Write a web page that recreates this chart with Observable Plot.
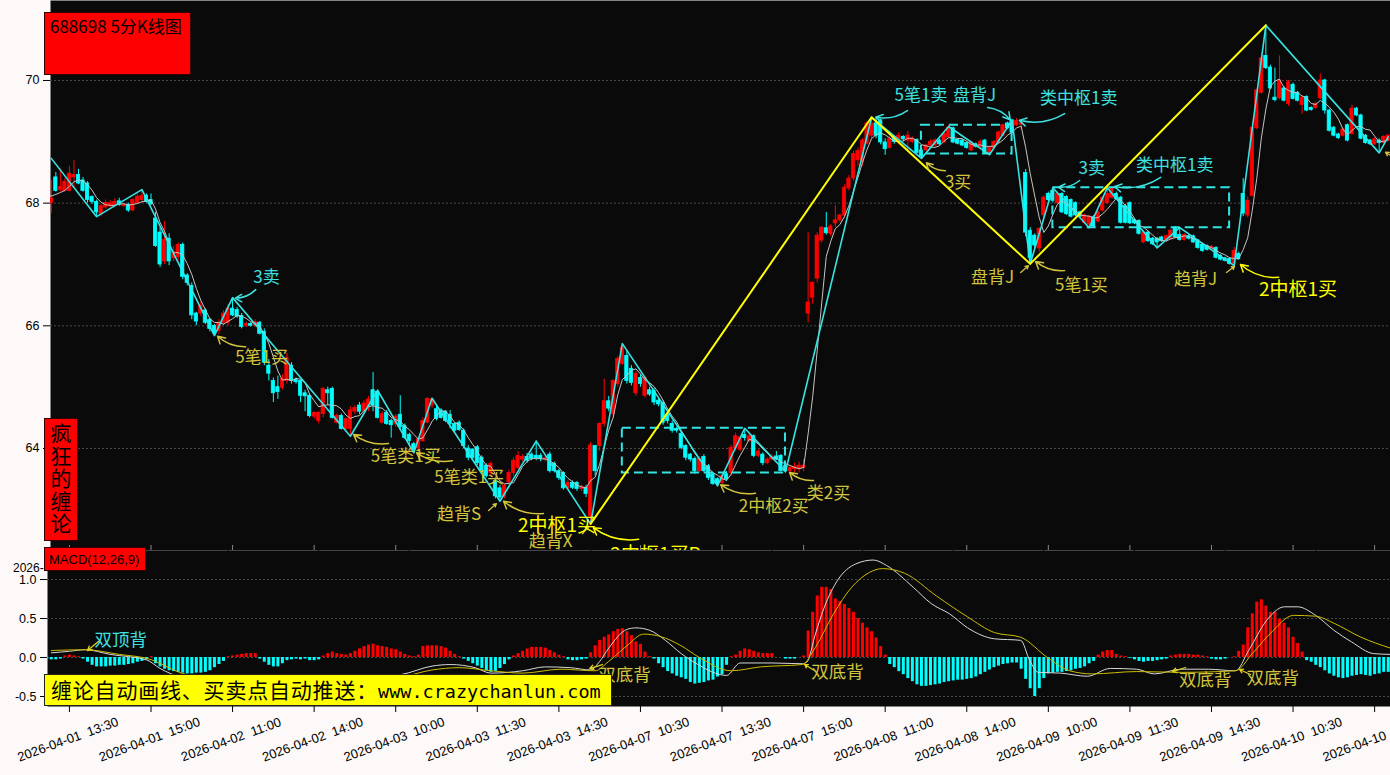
<!DOCTYPE html>
<html>
<head>
<meta charset="utf-8">
<script src="https://cdn.jsdelivr.net/npm/d3@7"></script>
<script src="https://cdn.jsdelivr.net/npm/@observablehq/plot@0.6"></script>
<style>
  html,body{margin:0;padding:0;}
  body{width:1390px;height:775px;background:#fcf9f8;position:relative;overflow:hidden;}
  #kline,#macd{position:absolute;left:0;}
  #kline{top:0;} #macd{top:550px;}
  .tag{position:absolute;z-index:5;box-sizing:border-box;color:#000;}
  #title{left:44px;top:12px;width:147px;height:63px;background:#ff0000;border:1px solid #3a0000;font:17px "Noto Sans CJK SC",sans-serif;padding:3px 0 0 5px;line-height:20px;white-space:nowrap;}
  #vtag{left:44px;top:418px;width:34px;height:123px;background:#ff0000;border:1px solid #3a0000;font:21px "Noto Sans CJK SC",sans-serif;line-height:22.6px;text-align:center;padding-top:2px;}
  #mtag{left:44px;top:547px;width:102px;height:24px;background:#ff0000;border:1px solid #3a0000;font:13px "Liberation Sans",sans-serif;padding:4px 0 0 4px;white-space:nowrap;}
  #banner{left:44px;top:674px;width:568px;height:32px;background:#ffff00;border:1px solid #222;font:21px "Noto Sans CJK SC",sans-serif;letter-spacing:0.8px;line-height:29px;padding-left:6px;white-space:nowrap;}
  #banner span{font:18.5px "DejaVu Sans Mono",monospace;letter-spacing:0;}
  #frag{left:13px;top:561px;font:12px "Liberation Sans",sans-serif;}
</style>
</head>
<body>
<div id="kline"></div>
<div id="macd"></div>
<div class="tag" id="title">688698 5分K线图</div>
<div class="tag" id="vtag">疯<br>狂<br>的<br>缠<br>论</div>
<div class="tag" id="frag">2026-</div>
<div class="tag" id="mtag">MACD(12,26,9)</div>
<div class="tag" id="banner">缠论自动画线、买卖点自动推送：<span>www.crazychanlun.com</span></div>
<script>
// ---------- 5-minute candles (bar index 0 = 2026-04-01 13:05) ----------
const open = [
68.30,68.00,68.42,68.22,68.20,68.20,68.42,68.46,68.37,68.32,
68.10,68.02,67.82,67.93,67.95,67.95,68.03,67.95,67.97,67.88,
68.00,68.05,68.12,68.05,67.75,67.52,67.05,67.42,67.10,67.12,
67.32,66.82,66.65,66.20,66.20,66.25,66.10,66.00,65.92,66.05,
66.05,66.28,66.26,66.16,66.00,66.03,66.00,66.05,65.90,65.35,
65.10,65.00,64.99,65.10,65.35,65.12,65.10,64.90,64.86,64.52,
64.45,64.56,64.95,64.97,64.42,64.53,64.32,64.32,64.60,64.70,
64.61,64.65,64.95,64.92,64.42,64.58,64.45,64.40,64.55,64.37,
64.22,64.07,64.00,64.12,64.42,64.70,64.64,64.62,64.60,64.55,
64.40,64.42,64.29,64.00,63.98,64.02,63.85,63.72,63.60,63.47,
63.35,63.22,63.45,63.60,63.68,63.82,63.86,63.90,63.88,63.88,
63.82,63.90,63.75,63.63,63.60,63.35,63.44,63.44,63.34,63.36,
62.90,64.04,64.04,64.40,64.77,64.56,65.05,65.38,65.51,65.30,
64.90,65.15,64.86,64.95,64.94,64.78,64.74,64.55,64.40,64.32,
64.24,64.04,63.90,63.83,63.63,63.86,63.71,63.58,63.50,63.44,
63.58,63.60,64.00,63.98,64.22,64.12,64.20,63.88,63.90,63.76,
63.82,63.87,63.88,63.71,63.63,63.66,63.66,63.68,66.20,66.46,
66.77,67.39,67.59,67.50,67.67,67.72,67.80,68.24,68.40,68.70,
68.66,68.97,69.10,69.30,69.35,68.99,68.90,69.08,69.00,69.08,
69.02,69.00,69.03,68.86,68.86,68.94,68.94,69.02,68.99,69.07,
69.22,69.03,69.02,68.98,68.86,68.96,68.90,69.02,68.80,68.90,
68.99,69.10,69.30,69.35,69.27,69.28,68.49,67.55,67.47,67.26,
67.80,68.15,68.20,68.00,68.15,68.10,68.05,68.00,67.85,67.68,
67.65,67.77,67.70,67.88,68.00,68.09,68.15,68.09,67.95,68.00,
67.72,67.71,67.36,67.52,67.42,67.42,67.44,67.38,67.42,67.60,
67.48,67.40,67.46,67.46,67.39,67.32,67.30,67.25,67.27,67.14,
67.10,67.09,67.01,67.17,68.15,67.80,68.12,69.22,69.80,70.40,
70.21,69.72,69.71,69.87,69.62,69.93,69.80,69.60,69.73,69.55,
69.55,69.71,70.00,69.51,69.23,69.12,69.10,69.27,69.13,69.54,
69.43,69.10,69.02,68.96,69.02,68.98,69.02];
const high = [
68.40,68.38,68.50,68.56,68.40,68.60,68.70,68.55,68.42,68.35,
68.12,68.05,67.98,68.05,68.04,68.07,68.08,67.99,68.00,68.07,
68.15,68.22,68.15,68.15,67.85,67.60,67.70,67.50,67.30,67.35,
67.35,66.85,66.70,66.22,66.40,66.28,66.12,66.02,66.10,66.25,
66.35,66.46,66.30,66.20,66.06,66.05,66.10,66.07,65.95,65.45,
65.15,65.18,65.20,65.55,65.40,65.15,65.12,64.95,64.88,64.60,
64.60,65.00,65.00,65.00,64.56,64.56,64.50,64.68,64.70,64.75,
64.78,64.85,65.24,64.95,64.60,64.62,64.48,64.55,64.86,64.40,
64.25,64.10,64.18,64.50,64.83,64.82,64.70,64.65,64.62,64.62,
64.42,64.45,64.32,64.05,64.00,64.05,63.88,63.75,63.78,63.50,
63.40,63.42,63.65,63.85,63.95,63.90,63.92,63.93,64.12,63.92,
63.88,63.94,63.78,63.66,63.62,63.48,63.47,63.46,63.40,63.40,
64.10,64.05,64.42,65.13,64.85,65.12,65.50,65.71,65.60,65.35,
65.25,65.20,65.18,65.00,64.98,64.82,64.78,64.58,64.45,64.35,
64.27,64.06,63.92,63.86,63.86,63.90,63.74,63.60,63.52,63.58,
63.62,64.05,64.25,64.20,64.32,64.24,64.22,63.98,63.93,63.85,
63.90,63.95,63.90,63.74,63.72,63.76,63.78,63.82,67.52,66.72,
67.52,67.62,67.85,67.65,67.96,67.82,68.30,68.45,68.85,68.90,
69.05,69.33,69.40,69.38,69.37,69.05,69.08,69.10,69.15,69.10,
69.17,69.08,69.05,68.88,68.96,69.03,69.05,69.04,69.15,69.27,
69.24,69.05,69.04,69.00,69.01,68.98,69.03,69.04,68.92,69.02,
69.17,69.29,69.32,69.36,69.38,69.32,68.55,67.60,67.50,67.60,
68.12,68.18,68.25,68.18,68.17,68.12,68.07,68.02,67.87,67.82,
67.80,67.80,67.87,68.10,68.25,68.25,68.18,68.11,67.98,68.02,
67.74,67.73,67.54,67.54,67.44,67.44,67.46,67.48,67.57,67.62,
67.60,67.50,67.48,67.48,67.41,67.34,67.32,67.31,67.29,67.16,
67.12,67.11,67.28,67.20,68.40,68.10,69.25,69.86,70.40,70.90,
70.25,70.20,70.40,69.90,70.00,69.96,69.82,69.75,69.75,69.57,
69.64,70.11,70.02,69.53,69.25,69.14,69.22,69.29,69.60,69.56,
69.45,69.12,69.04,69.06,69.05,69.10,69.12];
const low = [
68.10,67.83,68.18,68.18,68.18,68.18,68.25,68.30,68.18,68.00,
67.98,67.77,67.78,67.90,67.92,67.93,67.95,67.93,67.85,67.86,
67.98,68.00,68.00,67.96,67.28,66.95,67.00,66.98,67.05,67.05,
66.75,66.65,66.10,66.00,66.15,66.02,65.90,65.84,65.86,66.00,
66.00,66.15,66.12,65.95,65.97,65.98,65.97,65.85,65.35,65.10,
64.75,64.80,64.95,65.05,65.05,65.05,64.75,64.60,64.50,64.48,
64.40,64.50,64.70,64.48,64.40,64.30,64.28,64.20,64.55,64.55,
64.58,64.60,64.60,64.48,64.40,64.38,64.17,64.35,64.30,64.15,
64.05,63.93,63.98,64.10,64.40,64.65,64.45,64.48,64.42,64.32,
64.27,64.28,64.00,63.80,63.82,63.72,63.60,63.52,63.55,63.18,
63.14,63.18,63.40,63.55,63.65,63.78,63.76,63.80,63.80,63.78,
63.78,63.60,63.60,63.48,63.32,63.32,63.33,63.30,63.30,63.20,
62.77,63.55,63.95,64.35,64.60,64.50,65.00,65.35,65.05,65.02,
64.85,65.00,64.82,64.85,64.70,64.68,64.38,64.40,64.25,64.25,
63.98,63.80,63.78,63.58,63.60,63.60,63.48,63.40,63.39,63.40,
63.46,63.55,63.96,63.95,64.12,64.10,63.85,63.85,63.72,63.74,
63.80,63.80,63.62,63.62,63.60,63.60,63.60,63.62,66.05,66.35,
66.70,67.35,67.48,67.45,67.60,67.68,67.75,68.20,68.35,68.60,
68.60,68.95,69.05,69.05,68.95,68.78,68.88,68.96,68.95,69.00,
68.85,68.97,68.80,68.73,68.84,68.90,68.92,68.94,68.97,69.05,
68.97,68.95,68.92,68.88,68.84,68.90,68.88,68.80,68.79,68.88,
68.97,69.08,69.20,69.13,69.25,69.20,67.45,67.01,67.25,67.20,
67.75,68.00,68.00,67.98,67.83,67.80,67.76,67.78,67.76,67.66,
67.60,67.60,67.68,67.86,67.98,68.07,68.05,67.66,67.66,67.65,
67.65,67.48,67.34,67.36,67.31,67.27,67.36,67.36,67.40,67.42,
67.38,67.38,67.40,67.34,67.25,67.20,67.22,67.23,67.09,67.06,
67.04,66.99,66.98,67.07,67.78,67.76,68.10,69.20,69.78,70.18,
69.85,69.65,69.68,69.65,69.58,69.68,69.65,69.45,69.49,69.50,
69.53,69.69,69.45,69.16,69.08,69.04,69.08,69.00,69.11,69.41,
69.03,68.96,68.94,68.94,68.83,68.96,69.00];
const close = [
68.15,68.08,68.20,68.26,68.35,68.48,68.46,68.32,68.20,68.05,
68.02,67.85,67.95,68.00,68.00,68.02,67.97,67.97,67.88,68.05,
68.10,68.12,68.02,67.98,67.30,67.00,67.40,67.05,67.20,67.32,
66.80,66.70,66.17,66.07,66.33,66.05,65.95,65.88,66.05,66.20,
66.28,66.17,66.15,65.98,66.03,66.00,66.06,65.87,65.40,65.22,
64.90,64.92,65.13,65.48,65.10,65.08,64.86,64.85,64.53,64.58,
64.58,64.97,64.90,64.50,64.53,64.32,64.48,64.62,64.66,64.60,
64.73,64.80,64.70,64.50,64.56,64.40,64.38,64.52,64.35,64.17,
64.12,63.98,64.15,64.45,64.81,64.80,64.48,64.50,64.45,64.40,
64.29,64.30,64.04,63.85,63.85,63.76,63.63,63.55,63.75,63.22,
63.20,63.39,63.60,63.80,63.88,63.86,63.80,63.83,63.84,63.83,
63.84,63.63,63.63,63.52,63.35,63.44,63.36,63.34,63.38,63.26,
64.05,63.63,64.40,64.77,64.65,65.10,65.46,65.64,65.10,65.07,
65.22,65.05,65.15,64.88,64.75,64.72,64.42,64.45,64.29,64.29,
64.01,63.85,63.82,63.63,63.83,63.63,63.52,63.42,63.42,63.55,
63.50,64.01,64.20,64.18,64.17,64.20,63.88,63.95,63.76,63.82,
63.86,63.82,63.63,63.63,63.68,63.70,63.72,63.72,66.38,66.70,
67.47,67.60,67.51,67.62,67.72,67.80,68.25,68.40,68.80,68.85,
69.02,69.30,69.30,69.10,68.99,68.88,69.05,69.00,69.10,69.04,
69.10,69.05,68.82,68.76,68.94,69.00,69.02,68.96,69.13,69.23,
68.99,68.97,68.94,68.90,68.99,68.92,69.00,68.82,68.90,69.00,
69.15,69.27,69.22,69.15,69.34,69.30,67.52,67.11,67.31,67.58,
68.09,68.05,68.04,68.15,67.85,67.82,67.78,67.80,67.78,67.80,
67.78,67.62,67.85,68.09,68.15,68.24,68.07,67.68,67.68,67.67,
67.67,67.50,67.52,67.38,67.33,67.36,67.38,67.46,67.55,67.44,
67.40,67.48,67.42,67.36,67.27,67.22,67.24,67.29,67.11,67.08,
67.06,67.01,67.22,67.09,67.83,68.04,69.23,69.84,70.36,70.20,
69.87,69.68,70.00,69.67,69.97,69.70,69.67,69.72,69.51,69.52,
69.62,70.00,69.51,69.18,69.10,69.06,69.20,69.02,69.54,69.43,
69.05,68.98,68.96,69.04,68.98,69.08,69.10];

// ---------- MACD histogram, one value per bar ----------
const macdHist = [
-0.02,-0.03,-0.03,-0.02,0.02,0.03,0.02,0.01,-0.02,-0.06,
-0.10,-0.12,-0.12,-0.12,-0.11,-0.11,-0.10,-0.10,-0.09,-0.08,
-0.06,-0.05,-0.03,0.01,-0.08,-0.12,-0.15,-0.17,-0.18,-0.19,
-0.20,-0.21,-0.21,-0.20,-0.20,-0.19,-0.17,-0.13,-0.09,-0.05,
0.01,0.02,0.03,0.04,0.05,0.05,0.05,-0.02,-0.06,-0.10,
-0.12,-0.12,-0.08,-0.04,-0.03,-0.02,-0.03,-0.02,-0.04,-0.04,
-0.03,0.02,0.05,0.07,0.05,0.04,0.03,0.05,0.08,0.11,
0.14,0.16,0.17,0.15,0.14,0.13,0.11,0.10,0.07,0.04,
0.02,0.01,0.03,0.14,0.15,0.15,0.15,0.14,0.12,0.08,
0.04,0.01,-0.02,-0.05,-0.08,-0.11,-0.14,-0.17,-0.19,-0.18,
-0.14,-0.09,-0.03,0.02,0.05,0.08,0.11,0.13,0.13,0.13,
0.12,0.09,0.06,0.03,0.01,-0.03,-0.04,-0.04,-0.03,-0.02,
0.06,0.15,0.22,0.26,0.29,0.33,0.36,0.37,0.33,0.28,
0.20,0.17,0.07,0.01,-0.02,-0.08,-0.13,-0.18,-0.21,-0.24,
-0.26,-0.28,-0.32,-0.34,-0.33,-0.32,-0.30,-0.29,-0.25,-0.22,
-0.10,0.01,0.03,0.08,0.11,0.10,0.08,0.06,0.05,0.05,
0.05,0.00,0.00,-0.02,-0.02,-0.02,0.00,0.02,0.34,0.58,
0.79,0.90,0.90,0.87,0.75,0.72,0.68,0.63,0.58,0.50,
0.44,0.38,0.33,0.25,0.14,0.03,-0.09,-0.13,-0.18,-0.22,
-0.27,-0.31,-0.35,-0.37,-0.37,-0.36,-0.35,-0.34,-0.32,-0.31,
-0.30,-0.29,-0.29,-0.28,-0.27,-0.25,-0.22,-0.19,-0.16,-0.13,
-0.11,-0.09,-0.08,-0.07,-0.07,-0.15,-0.28,-0.40,-0.50,-0.40,
-0.27,-0.21,-0.20,-0.19,-0.19,-0.18,-0.17,-0.15,-0.14,-0.12,
-0.08,-0.05,0.03,0.07,0.09,0.09,0.04,0.02,0.01,-0.01,
-0.03,-0.05,-0.06,-0.05,-0.05,-0.04,-0.03,-0.02,0.02,0.03,
0.04,0.04,0.04,0.03,0.03,0.02,0.01,-0.02,-0.03,-0.03,
-0.02,0.00,0.01,0.08,0.16,0.38,0.56,0.71,0.74,0.66,
0.58,0.58,0.49,0.44,0.38,0.26,0.18,0.07,-0.04,-0.06,
-0.10,-0.13,-0.17,-0.21,-0.24,-0.26,-0.27,-0.26,-0.24,-0.23,
-0.22,-0.23,-0.24,-0.22,-0.21,-0.19,-0.19];

// DIF / DEA lines read at sample bars
const difIdx = [1,5,8.5,14,22,25,34,47,63,78,85,89,94.5,98,105,110,115.5,120,122,124,128,130,133,136.5,140,144,147.5,150,153,160,166.7,167.7,169.6,171.6,174.5,178.5,182.4,185.3,191.2,195.2,199.2,203.2,209.1,214.9,216.9,218.8,223.7,229.6,234.7,240.5,244.4,250.4,256.3,262.3,265.2,269.1,273.1,276,280,284,287.9,292.8,296.5];
const difVal = [0.06,0.08,0.10,0.04,-0.03,-0.14,-0.30,-0.32,-0.28,-0.22,-0.11,-0.09,-0.13,-0.20,-0.17,-0.12,-0.13,-0.16,-0.05,0.12,0.36,0.38,0.35,0.22,0.05,-0.10,-0.20,-0.23,-0.07,-0.07,-0.08,-0.06,0.30,0.65,0.99,1.20,1.25,1.18,0.90,0.69,0.56,0.38,0.24,0.22,-0.04,-0.19,-0.20,-0.24,-0.14,-0.15,-0.21,-0.15,-0.15,-0.17,0.09,0.47,0.65,0.65,0.54,0.35,0.20,0.05,0.04];
const deaIdx = [1,8.5,16,22,31,45,63,78,85,91,98,105,113.5,121,124,128,131.7,135.4,140,144,151,157.5,166.7,169.6,173.6,177.6,181.5,184.4,189.3,196.3,203.2,209.1,214.9,220.8,225.7,230.7,240.5,250.4,262.3,266,270,275.1,280,284,290,296.5];
const deaVal = [0.09,0.10,0.04,-0.01,-0.22,-0.30,-0.30,-0.25,-0.16,-0.13,-0.17,-0.20,-0.15,-0.17,-0.05,0.15,0.30,0.27,0.15,0.00,-0.17,-0.12,-0.09,0.13,0.56,0.90,1.09,1.14,1.08,0.79,0.52,0.32,0.26,0.00,-0.17,-0.21,-0.18,-0.19,-0.17,0.05,0.31,0.54,0.53,0.44,0.26,0.12];

// ---------- Chan-theory structure ----------
const biIdx = [1,11,21,37,41,67,73,81,85,100,108,120,127,148,154,163,182,193,199,208,213,217,222,230,234,245,250,262,269,294,296];
const biVal = [68.73,67.78,68.22,65.84,66.46,64.20,64.95,63.93,64.82,63.14,64.12,62.77,65.71,63.39,64.33,63.62,69.40,68.73,69.25,68.79,69.35,67.01,68.25,67.60,68.25,67.27,67.60,66.98,70.90,68.82,69.08];
const duanIdx = [120,182,217,269];
const duanVal = [62.77,69.40,67.01,70.90];
const zsFrom = [127,193,222];
const zsTo = [163,213,261];
const zsLow = [63.60,68.80,67.60];
const zsHigh = [64.33,69.27,68.25];

// ---------- annotations (c = cyan, y = yellow, b = bright yellow) ----------
const labelText  = ["3卖","5笔1卖","盘背J","类中枢1卖","3卖","类中枢1卖","5笔1买","5笔类1买","5笔类1买","趋背S","趋背X","2中枢2买","类2买","3买","盘背J","5笔1买","趋背J","2中枢1买","2中枢1买P","2中枢1买"];
const labelIdx   = [48.5,192.9,204.7,227.7,230.6,248.9,47.4,79.2,93.2,91.0,111.2,160.4,172.5,201.1,208.7,228.3,253.5,112.6,134.3,276.1];
const labelPrice = [66.79,69.75,69.76,69.71,68.57,68.61,65.48,63.87,63.53,62.92,62.48,63.05,63.27,68.33,66.78,66.66,66.76,62.73,62.27,66.58];
const labelKind  = ["c","c","c","c","c","c","y","y","y","y","y","y","y","y","y","y","y","b","b","b"];

const arrowFromIdx = [46.1,189.9,207.6,224.6,227.9,245.8,43.9,75.4,89.5,97.5,109.6,118.2,156.4,169.2,198.3,214.9,224.6,260.3,297.6,130.6,271.8];
const arrowFromVal = [66.59,69.51,69.56,69.46,68.37,68.42,65.66,64.08,63.80,62.99,62.94,62.61,63.27,63.48,68.53,66.87,66.90,66.87,68.73,62.52,66.79];
const arrowToIdx   = [41.6,182.9,212.6,214.6,223.2,235.6,37.7,67.7,81.6,99.2,100.8,119.5,148.7,163.9,194.1,216.6,218.2,262.1,295.4,120.6,263.4];
const arrowToVal   = [66.45,69.40,69.36,69.35,68.26,68.27,65.83,64.23,63.93,63.10,63.14,62.73,63.41,63.61,68.66,66.98,67.05,66.97,68.83,62.71,67.00];
const arrowKind    = ["c","c","c","c","c","c","y","y","y","y","y","y","y","y","y","y","y","y","y","b","b"];
const arrowCurved  = [1,1,1,1,1,1,1,1,1,0,1,0,1,1,1,0,1,0,0,1,1];

const macdLabelText = ["双顶背","双底背","双底背","双底背","双底背"];
const macdLabelIdx  = [16.3,127.5,174.5,255.6,270.5];
const macdLabelVal  = [0.224,-0.224,-0.186,-0.288,-0.263];
const macdLabelKind = ["c","y","y","y","y"];
const macdArrowFromIdx = [11.4,122.6,169.4,251.3,265.6];
const macdArrowFromVal = [0.205,-0.09,-0.167,-0.128,-0.218];
const macdArrowToIdx   = [9.0,119.8,167.2,248.4,263.2];
const macdArrowToVal   = [0.09,-0.141,-0.09,-0.18,-0.154];

// ---------- axes ----------
const priceTicks = [64,66,68,70];
const macdTicks = [-0.5,0,0.5,1];
const tickBars = [5,23,41,59,77,95,113,131,149,167,185,203,221,239,257,275,293];
const tickLabels = ["2026-04-01  13:30","2026-04-01  15:00","2026-04-02  11:00","2026-04-02  14:00","2026-04-03  10:00","2026-04-03  11:30","2026-04-03  14:30","2026-04-07  10:30","2026-04-07  13:30","2026-04-07  15:00","2026-04-08  11:00","2026-04-08  14:00","2026-04-09  10:00","2026-04-09  11:30","2026-04-09  14:30","2026-04-10  10:30","2026-04-10  13:30"];

// ---------- build ----------
const RED = "#ff0000", CYAN = "#00ffff";
const TXT = {c: "#3ee0e0", y: "#d2c43c", b: "#ffff00"};
const N = close.length;
const bars = close.map((c, i) => ({i, o: open[i], h: high[i], l: low[i], c, col: c >= open[i] ? RED : CYAN}));
const bi = biIdx.map((i, k) => ({i, v: biVal[k]}));
const duan = duanIdx.map((i, k) => ({i, v: duanVal[k]}));
const zs = zsFrom.map((a, k) => ({a, b: zsTo[k], lo: zsLow[k], hi: zsHigh[k]}));
const labels = labelText.map((t, k) => ({t, i: labelIdx[k], v: labelPrice[k], col: TXT[labelKind[k]], kind: labelKind[k]}));
const arrows = arrowFromIdx.map((x1, k) => ({x1, y1: arrowFromVal[k], x2: arrowToIdx[k], y2: arrowToVal[k], col: TXT[arrowKind[k]], curved: arrowCurved[k]}));
const hist = macdHist.map((v, i) => ({i, v, col: v >= 0 ? RED : CYAN}));
const dif = difIdx.map((i, k) => ({i, v: difVal[k]}));
const dea = deaIdx.map((i, k) => ({i, v: deaVal[k]}));
const mLabels = macdLabelText.map((t, k) => ({t, i: macdLabelIdx[k], v: macdLabelVal[k], col: TXT[macdLabelKind[k]]}));
const mArrows = macdArrowFromIdx.map((x1, k) => ({x1, y1: macdArrowFromVal[k], x2: macdArrowToIdx[k], y2: macdArrowToVal[k]}));

const CJK = "Noto Sans CJK SC";

const kline = Plot.plot({
  width: 1390, height: 550,
  marginLeft: 50, marginRight: 0, marginTop: 0, marginBottom: 0,
  style: {background: "transparent", color: "#000", overflow: "visible"},
  x: {domain: [-0.5, N - 0.5], range: [44, 1390], label: null},
  y: {domain: [62.337, 71.304], label: null},
  color: {type: "identity"},
  marks: [
    Plot.frame({fill: "#0a0a0a", stroke: null}),
    Plot.gridY({ticks: priceTicks, stroke: "#4a4a4a", strokeOpacity: 1, strokeDasharray: "2,2"}),
    Plot.axisY({ticks: priceTicks, tickSize: 7, tickPadding: 4, fontSize: 12.5, fontFamily: "Liberation Sans", label: null}),
    Plot.tickX(tickBars, {x: d => d, insetTop: 545, stroke: "#888"}),
    Plot.ruleX(bars, {x: "i", y1: "l", y2: "h", stroke: "col", strokeWidth: 1, clip: true}),
    Plot.rect(bars, {x1: d => d.i - 0.36, x2: d => d.i + 0.36, y1: "o", y2: "c", fill: "col", stroke: "col", strokeWidth: 0.8, clip: true}),
    Plot.lineY(bars, Plot.windowY({k: 5, anchor: "end"}, {x: "i", y: "c", stroke: "#c4c4c4", strokeWidth: 1, clip: true})),
    Plot.rect(zs, {x1: "a", x2: "b", y1: "lo", y2: "hi", fill: "none", stroke: "#33e4e4", strokeWidth: 2, strokeDasharray: "9,5"}),
    Plot.line(bi, {x: "i", y: "v", stroke: "#37e4e4", strokeWidth: 1.6, clip: true}),
    Plot.line(duan, {x: "i", y: "v", stroke: "#ffff00", strokeWidth: 2, clip: true}),
    Plot.arrow(arrows.filter(d => d.curved), {x1: "x1", y1: "y1", x2: "x2", y2: "y2", stroke: "col", bend: 22, headLength: 8, strokeWidth: 1.5, clip: true}),
    Plot.arrow(arrows.filter(d => !d.curved), {x1: "x1", y1: "y1", x2: "x2", y2: "y2", stroke: "col", bend: 0, headLength: 5, strokeWidth: 1.3, clip: true}),
    Plot.text(labels.filter(d => d.kind !== "b"), {x: "i", y: "v", text: "t", fill: "col", fontSize: 17, fontFamily: CJK, clip: true}),
    Plot.text(labels.filter(d => d.kind === "b"), {x: "i", y: "v", text: "t", fill: "col", fontSize: 19, fontFamily: CJK, clip: true})
  ]
});
document.getElementById("kline").appendChild(kline);

const macd = Plot.plot({
  width: 1390, height: 225,
  marginLeft: 47, marginRight: 0, marginTop: 0, marginBottom: 69,
  style: {background: "transparent", color: "#000", overflow: "visible"},
  x: {domain: [-0.5, N - 0.5], range: [44, 1390], label: null},
  y: {domain: [-0.628, 1.372], label: null},
  color: {type: "identity"},
  marks: [
    Plot.frame({fill: "#0a0a0a", stroke: null}),
    Plot.gridY({ticks: macdTicks, stroke: "#4a4a4a", strokeOpacity: 1, strokeDasharray: "2,2"}),
    Plot.axisY({ticks: macdTicks, tickFormat: d => d.toFixed(1), tickSize: 7, tickPadding: 4, fontSize: 12.5, fontFamily: "Liberation Sans", label: null}),
    Plot.axisX({ticks: tickBars, tickFormat: () => "", tickSize: 6, label: null}),
    Plot.text(tickBars, {x: d => d, text: (d, k) => tickLabels[k], frameAnchor: "bottom", dy: 37, rotate: -20, fontSize: 13, fontFamily: "Liberation Sans", fill: "#000"}),
    Plot.ruleX(hist, {x: "i", y1: 0, y2: "v", stroke: "col", strokeWidth: 3, clip: true}),
    Plot.line(dif, {x: "i", y: "v", stroke: "#d8d8d8", strokeWidth: 1, curve: "monotone-x", clip: true}),
    Plot.line(dea, {x: "i", y: "v", stroke: "#cdbb00", strokeWidth: 1, curve: "monotone-x", clip: true}),
    Plot.arrow(mArrows, {x1: "x1", y1: "y1", x2: "x2", y2: "y2", stroke: "#e0d020", bend: 0, headLength: 6, strokeWidth: 1.3, clip: true}),
    Plot.text(mLabels, {x: "i", y: "v", text: "t", fill: "col", fontSize: 17.5, fontFamily: CJK, clip: true})
  ]
});
document.getElementById("macd").appendChild(macd);
</script>
</body>
</html>
